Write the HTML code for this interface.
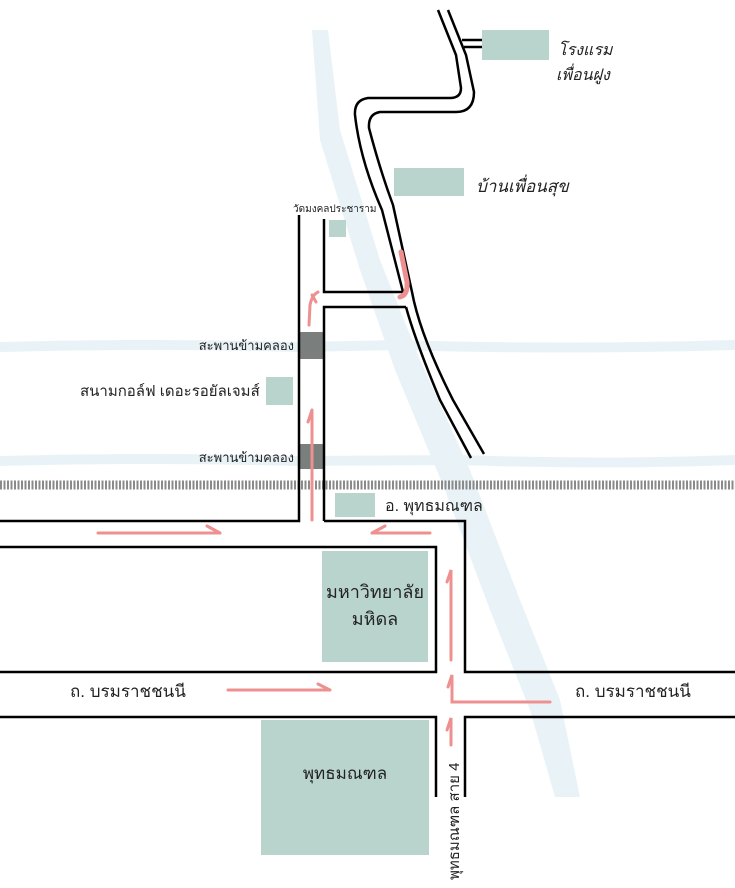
<!DOCTYPE html>
<html><head><meta charset="utf-8"><style>
html,body{margin:0;padding:0;background:#fff}
svg{display:block}
text{font-family:"Liberation Sans","Noto Sans CJK SC",sans-serif;fill:#222}
</style></head><body>
<svg width="735" height="888" viewBox="0 0 735 888" xmlns="http://www.w3.org/2000/svg">
<path d="M312 30 L328 30 L340 130 L380 260 L420 360 L470 470 L520 600 L560 700 L580 797 L555 797 L530 710 L490 610 L445 490 L395 370 L360 270 L320 140 Z" fill="#e9f3f7"/>
<path d="M0 342 Q150 338 300 342 L400 340 Q550 345 735 340 L735 350 Q550 355 400 350 L300 352 Q150 348 0 352 Z" fill="#e9f3f7"/>
<path d="M0 456 Q150 452 300 456 L460 455 Q600 460 735 455 L735 465 Q600 470 460 465 L300 466 Q150 462 0 466 Z" fill="#e9f3f7"/>
<line x1="0" y1="485" x2="735" y2="485" stroke="#8a8a8a" stroke-width="9" stroke-dasharray="2 1.5"/>
<g fill="#b9d4cd">
<rect x="482" y="30" width="67" height="30"/>
<rect x="394" y="168" width="70" height="28"/>
<rect x="329" y="220" width="17" height="17"/>
<rect x="266" y="377" width="27" height="28"/>
<rect x="335" y="493" width="40" height="24"/>
<rect x="322" y="551" width="106" height="111"/>
<rect x="261" y="720" width="168" height="135"/>
</g>
<rect x="299" y="332" width="25" height="27" fill="#7a7f7e"/>
<rect x="299" y="444" width="25" height="25" fill="#7a7f7e"/>
<g fill="none" stroke="#000" stroke-width="2.5">
<path d="M299 215 L299 521 L0 521"/>
<path d="M324 219 L324 292 L403 292"/>
<path d="M324 521 L324 307 L406 307"/>
<path d="M324 521 L465 521 L465 672 L735 672"/>
<path d="M0 547 L436 547 L436 672 L0 672"/>
<path d="M0 717 L436 717 L436 797"/>
<path d="M735 717 L465 717 L465 797"/>
<path d="M438 10 L456 55 L461 88 Q461 98 450 98 L368 98 Q354 100 355 115 Q360 160 382 210 L403 292 M406 307 Q415 340 440 400 L471 458"/>
<path d="M448 10 L466 55 L474 92 Q474 112 456 112 L380 112 Q368 114 369 128 Q380 170 393 205 L412 292 Q420 335 453 400 L484 454"/>
<path d="M462 40 L482 40 M464 47 L482 47"/>
</g>
<g fill="none" stroke="#ee9090" stroke-width="3" stroke-linecap="round">
<path d="M98 533 L220 533 M207 526 L220 533"/>
<path d="M430 533 L372 533 M385 526 L372 533"/>
<path d="M312 520 L312 410 M312 410 L308 422"/>
<path d="M309 325 L310 305 Q312 295 318 292 M312 295 L316 302"/>
</g>
<path d="M400 297 Q408 295 407 282 L401 252" fill="none" stroke="#ee9090" stroke-width="5" stroke-linecap="round"/>
<g fill="none" stroke="#ee9090" stroke-width="3" stroke-linecap="round">
<path d="M451 660 L451 570 L447 582"/>
<path d="M228 690 L330 690 M318 684 L330 690"/>
<path d="M550 702 L452 702 L452 675 L448 687"/>
<path d="M451 745 L451 718 L447 730"/>
</g>
<text x="293" y="212" font-size="10">วัดมงคลประชาราม</text>
<text x="294" y="350" font-size="13" text-anchor="end">สะพานข้ามคลอง</text>
<text x="294" y="462" font-size="13" text-anchor="end">สะพานข้ามคลอง</text>
<text x="80" y="396" font-size="15">สนามกอล์ฟ เดอะรอยัลเจมส์</text>
<text x="385" y="511" font-size="16">อ. พุทธมณฑล</text>
<text x="375" y="598" font-size="18" text-anchor="middle">มหาวิทยาลัย</text>
<text x="375" y="625" font-size="18" text-anchor="middle">มหิดล</text>
<text x="70" y="697" font-size="17">ถ. บรมราชชนนี</text>
<text x="575" y="697" font-size="17">ถ. บรมราชชนนี</text>
<text x="345" y="779" font-size="17" text-anchor="middle">พุทธมณฑล</text>
<text transform="translate(459,880) rotate(-90)" font-size="15">พุทธมณฑล สาย 4</text>
<text x="558" y="55" font-size="16" font-style="italic">โรงแรม</text>
<text x="556" y="80" font-size="16" font-style="italic">เพื่อนฝูง</text>
<text x="476" y="192" font-size="17" font-style="italic">บ้านเพื่อนสุข</text>
</svg>
</body></html>
